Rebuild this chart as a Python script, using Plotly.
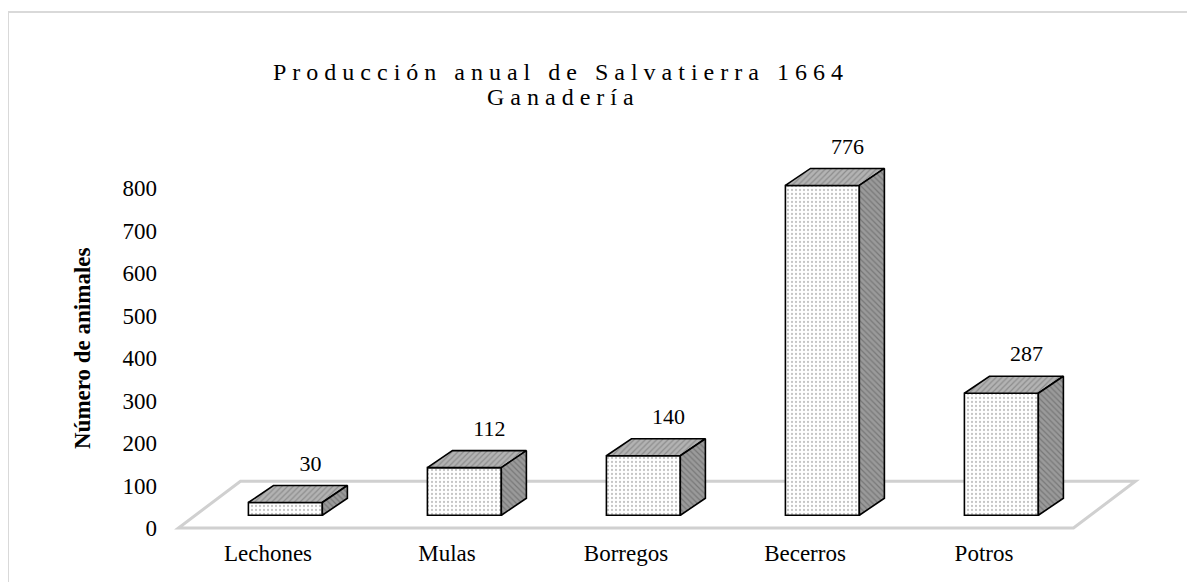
import plotly.graph_objects as go

categories = ["Lechones", "Mulas", "Borregos", "Becerros", "Potros"]
values = [30, 112, 140, 776, 287]
y_ticks = [0, 100, 200, 300, 400, 500, 600, 700, 800]
title_line1 = "Producción anual de Salvatierra 1664"
title_line2 = "Ganadería"
y_title = "Número de animales"

FONT = "Liberation Serif, Times New Roman, serif"

# pseudo-3D geometry (in axis units)
BAR_W = 0.413
FRONT_DX, FRONT_DY = 0.097, 30      # bar front plane offset from floor front
DEPTH_DX, DEPTH_DY = 0.14, 40       # bar depth
FLOOR_DX, FLOOR_DY = 0.346, 110     # floor depth

# page has an 8px body margin; figure coordinates = page coordinates - 8
OFF = 8
FIG_W, FIG_H = 1195 - OFF, 582 - OFF
L, T = 170 - OFF, 140 - OFF
PLOT_R, PLOT_B = 1150 - OFF, 540 - OFF
R, B = FIG_W - PLOT_R, FIG_H - PLOT_B
W_PX, H_PX = PLOT_R - L, PLOT_B - T
X_RANGE = [-0.5475, -0.5475 + W_PX / 179.0]
Y_RANGE = [-28.24, -28.24 + H_PX / 0.425]

def spaced(s):
    return "\u2005".join(list(s))

def px(p):
    return (p - OFF - L) / W_PX

def py(p):
    return (PLOT_B - (p - OFF)) / H_PX

fig = go.Figure()

xs = [i + FRONT_DX for i in range(len(categories))]

# front faces
fig.add_trace(go.Bar(
    x=xs, y=values, base=[FRONT_DY] * len(values), width=BAR_W,
    marker=dict(color="white", line=dict(color="black", width=1.6),
                pattern=dict(shape=".", fgcolor="#8a8a8a", bgcolor="white", size=4, solidity=0.25)),
    showlegend=False, hoverinfo="skip"))

# top and side faces
for xc, v in zip(xs, values):
    x0, x1 = xc - BAR_W / 2, xc + BAR_W / 2
    top = FRONT_DY + v
    fig.add_trace(go.Scatter(
        x=[x0, x1, x1 + DEPTH_DX, x0 + DEPTH_DX, x0],
        y=[top, top, top + DEPTH_DY, top + DEPTH_DY, top],
        mode="lines", fill="toself", fillcolor="#b3b3b3",
        fillpattern=dict(shape="/", fgcolor="#666666", bgcolor="#b3b3b3", size=4, solidity=0.3),
        line=dict(color="black", width=1.6), showlegend=False, hoverinfo="skip"))
    fig.add_trace(go.Scatter(
        x=[x1, x1 + DEPTH_DX, x1 + DEPTH_DX, x1, x1],
        y=[FRONT_DY, FRONT_DY + DEPTH_DY, top + DEPTH_DY, top, FRONT_DY],
        mode="lines", fill="toself", fillcolor="#9a9a9a",
        fillpattern=dict(shape="\\", fgcolor="#555555", bgcolor="#9a9a9a", size=4, solidity=0.3),
        line=dict(color="black", width=1.6), showlegend=False, hoverinfo="skip"))

# data labels
fig.add_trace(go.Scatter(
    x=[xc + DEPTH_DX for xc in xs],
    y=[FRONT_DY + v + DEPTH_DY + 22 for v in values],
    mode="text", text=[str(v) for v in values], textposition="top center",
    textfont=dict(family=FONT, size=22, color="black"),
    showlegend=False, hoverinfo="skip"))

# floor
n = len(categories)
fx0, fx1 = -0.5, n - 0.5
fig.add_shape(type="path", layer="below",
              path=f"M {fx0},0 L {fx1},0 L {fx1 + FLOOR_DX},{FLOOR_DY} L {fx0 + FLOOR_DX},{FLOOR_DY} Z",
              line=dict(color="#d0d0d0", width=3), fillcolor="rgba(0,0,0,0)")

# outer border (top and left)
fig.add_shape(type="line", xref="paper", yref="paper", x0=px(8), x1=px(1200), y0=py(12), y1=py(12),
              line=dict(color="#d9d9d9", width=2))
fig.add_shape(type="line", xref="paper", yref="paper", x0=px(8), x1=px(8), y0=py(12), y1=py(600),
              line=dict(color="#d9d9d9", width=2))

fig.add_annotation(xref="paper", yref="paper", x=px(558), y=py(72), text=spaced(title_line1),
                   showarrow=False, xanchor="center", yanchor="middle",
                   font=dict(family=FONT, size=24, color="black"))
fig.add_annotation(xref="paper", yref="paper", x=px(560), y=py(97), text=spaced(title_line2),
                   showarrow=False, xanchor="center", yanchor="middle",
                   font=dict(family=FONT, size=24, color="black"))
fig.add_annotation(xref="paper", yref="paper", x=px(82), y=py(348), text="<b>" + y_title + "</b>",
                   textangle=-90, showarrow=False, xanchor="center", yanchor="middle",
                   font=dict(family=FONT, size=23, color="black"))

fig.update_layout(
    width=FIG_W, height=FIG_H, margin=dict(l=L, r=R, t=T, b=B, autoexpand=False),
    paper_bgcolor="white", plot_bgcolor="white",
    xaxis=dict(range=X_RANGE, tickvals=list(range(n)), ticktext=categories,
               showgrid=False, zeroline=False, showline=False, ticks="",
               tickfont=dict(family=FONT, size=23, color="black"), ticklabelstandoff=-3),
    yaxis=dict(range=Y_RANGE, tickvals=y_ticks, showgrid=False, zeroline=False, showline=False,
               ticks="", tickfont=dict(family=FONT, size=23, color="black"), ticklabelstandoff=12),
)

fig.write_html("out.html")
